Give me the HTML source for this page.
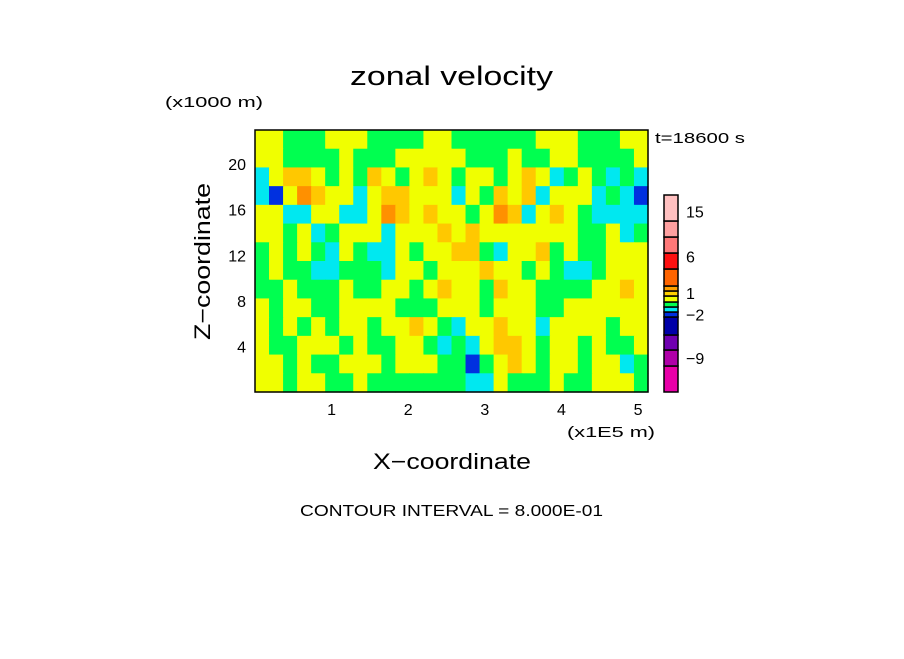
<!DOCTYPE html>
<html><head><meta charset="utf-8"><style>
body{margin:0;background:#fff;}
svg text{font-family:"Liberation Sans",sans-serif;fill:#000;}
</style></head><body>
<svg id="chart" width="904" height="654" viewBox="0 0 904 654" xmlns="http://www.w3.org/2000/svg">
<rect width="904" height="654" fill="#fff"/>
<text x="350" y="85" font-size="27" textLength="203" lengthAdjust="spacingAndGlyphs">zonal velocity</text>
<text x="165" y="107" font-size="15" textLength="98" lengthAdjust="spacingAndGlyphs">(x1000 m)</text>
<text x="655" y="143" font-size="15" textLength="90" lengthAdjust="spacingAndGlyphs">t=18600 s</text>
<g id="field"></g>
<rect x="255" y="130" width="393" height="262" fill="none" stroke="#000" stroke-width="1.5"/>
<g id="yticks"></g>
<g id="xticks"></g>
<text x="567" y="437" font-size="15" textLength="88" lengthAdjust="spacingAndGlyphs">(x1E5 m)</text>
<text x="373" y="469" font-size="22" textLength="158" lengthAdjust="spacingAndGlyphs">X−coordinate</text>
<text x="0" y="0" font-size="22" textLength="157" lengthAdjust="spacingAndGlyphs" transform="translate(210,340) rotate(-90)">Z−coordinate</text>
<text x="300" y="516" font-size="16" textLength="303" lengthAdjust="spacingAndGlyphs">CONTOUR INTERVAL = 8.000E-01</text>
<g id="cbar"></g>
</svg>
<script>
// field values (m/s approx), rows top (high Z) to bottom
const fieldRows = [
[1,1,0,0,0,1,1,1,0,0,0,0,1,1,0,0,0,0,0,0,1,1,1,0,0,0,1,1],
[1,1,0,0,0,0,1,0,0,0,1,1,1,1,1,0,0,0,1,0,0,1,1,0,0,0,0,1],
[-1,1,2,2,1,0,1,0,2,1,0,1,2,1,0,1,1,0,1,2,1,-1,0,1,0,-1,0,-1],
[-1,-2,1,3,2,1,1,-1,1,2,2,1,1,1,-1,1,0,2,1,2,-1,1,1,1,-1,0,-1,-2],
[1,1,-1,-1,1,1,-1,-1,1,3,2,1,2,1,1,0,1,3,2,-1,1,2,1,0,-1,-1,-1,-1],
[1,1,0,1,-1,0,1,1,1,-1,1,1,1,2,1,2,1,1,1,1,1,1,1,0,0,1,-1,0],
[0,1,0,1,0,-1,1,0,-1,-1,1,0,1,1,2,2,0,-1,1,1,2,0,1,0,0,1,1,1],
[0,1,0,0,-1,-1,0,0,0,-1,1,1,0,1,1,1,2,1,1,0,1,0,-1,-1,0,1,1,1],
[0,0,1,0,0,0,1,0,0,1,1,0,1,2,1,1,0,2,1,1,0,0,0,0,1,1,2,1],
[1,0,1,1,0,0,1,1,1,1,0,0,0,1,1,1,0,1,1,1,0,0,1,1,1,1,1,1],
[1,0,1,0,1,0,1,1,0,1,1,2,1,0,-1,1,1,2,1,1,-1,1,1,1,1,0,1,1],
[1,0,0,1,1,1,0,1,0,0,1,1,0,-1,0,-1,1,2,2,1,0,1,1,0,1,0,0,1],
[1,1,0,1,0,0,1,1,1,0,1,1,1,0,0,-2,0,1,2,1,0,1,1,0,1,1,-1,0],
[1,1,0,1,1,0,0,1,0,0,0,0,0,0,0,-1,-1,1,0,0,0,1,0,0,1,1,1,0]
];
const yTickValues = [4,8,12,16,20];
const xTickValues = [1,2,3,4,5];
const cbarLevels = [-15,-11,-7,-5,-2.4,-1.6,-0.8,0,0.8,1.6,2.4,3.2,8,12,16,20,26];
const cbarColors = ["#e800a8","#b000a8","#7000b0","#0000a8","#0030e0","#00e8f0","#00ff50","#f0ff00","#ffd000","#ffa000","#ff6400","#ff1010","#ff7878","#ffa0a0","#ffc0c0"];
const cbarLabels = [15,6,1,-2,-9];
const cbarLabelPos = [17.5,7,1.3,-2,-9];

const NS="http://www.w3.org/2000/svg";
const X0=255,X1=648,Y0=130,Y1=392;
const xMin=0,xMax=5.13,zMin=0,zMax=23;
const xs=v=>X0+(v-xMin)/(xMax-xMin)*(X1-X0);
const zs=v=>Y1-(v-zMin)/(zMax-zMin)*(Y1-Y0);
function fieldColor(v){
  if(v<=-2)return "#0030e0";
  if(v<=-1)return "#00e8f0";
  if(v<=0)return "#00ff50";
  if(v<=1)return "#f0ff00";
  if(v<=2)return "#ffc800";
  return "#ff9000";
}
const field=document.getElementById('field');
const nr=fieldRows.length,nc=fieldRows[0].length;
fieldRows.forEach((row,i)=>{
  row.forEach((v,j)=>{
    const x0=xs(xMin+(xMax-xMin)*j/nc),x1=xs(xMin+(xMax-xMin)*(j+1)/nc);
    const ya=zs(zMax-(zMax-zMin)*i/nr),yb=zs(zMax-(zMax-zMin)*(i+1)/nr);
    const r=document.createElementNS(NS,'rect');
    
    
    r.setAttribute('x',x0);r.setAttribute('y',ya);
    r.setAttribute('width',x1-x0+0.6);r.setAttribute('height',yb-ya+0.6);
    r.setAttribute('fill',fieldColor(v));
    field.appendChild(r);
  });
});
const yt=document.getElementById('yticks');
yTickValues.forEach(v=>{
  const t=document.createElementNS(NS,'text');
  
  
  t.setAttribute('x',246);t.setAttribute('y',zs(v)+6);
  t.setAttribute('font-size','16');t.setAttribute('text-anchor','end');
  t.textContent=v;yt.appendChild(t);
});
const xt=document.getElementById('xticks');
xTickValues.forEach(v=>{
  const t=document.createElementNS(NS,'text');
  
  
  t.setAttribute('x',xs(v));t.setAttribute('y',415);
  t.setAttribute('font-size','16');t.setAttribute('text-anchor','middle');
  t.textContent=v;xt.appendChild(t);
});
const cb=document.getElementById('cbar');
const segPx=[392,366,350,335,317,312,307,302,296,291,286,269,253,237,221,195];
function cbY(v){
  let k=0;
  while(k<cbarLevels.length-2 && v>cbarLevels[k+1])k++;
  const f=(v-cbarLevels[k])/(cbarLevels[k+1]-cbarLevels[k]);
  return segPx[k]+f*(segPx[k+1]-segPx[k]);
}
cbarColors.forEach((c,k)=>{
  const ya=cbY(cbarLevels[k+1]),yb=cbY(cbarLevels[k]);
  const r=document.createElementNS(NS,'rect');
  
  
  r.setAttribute('x',664);r.setAttribute('y',ya);r.setAttribute('width',14);r.setAttribute('height',yb-ya);
  r.setAttribute('fill',c);r.setAttribute('stroke','#000');r.setAttribute('stroke-width','1.5');
  cb.appendChild(r);
});
cbarLabels.forEach((l,k)=>{
  const t=document.createElementNS(NS,'text');
  
  
  t.setAttribute('x',686);t.setAttribute('y',cbY(cbarLabelPos[k])+6);
  t.setAttribute('font-size','16');
  t.textContent=l<0?('−'+(-l)):l;cb.appendChild(t);
});
</script>
</body></html>
